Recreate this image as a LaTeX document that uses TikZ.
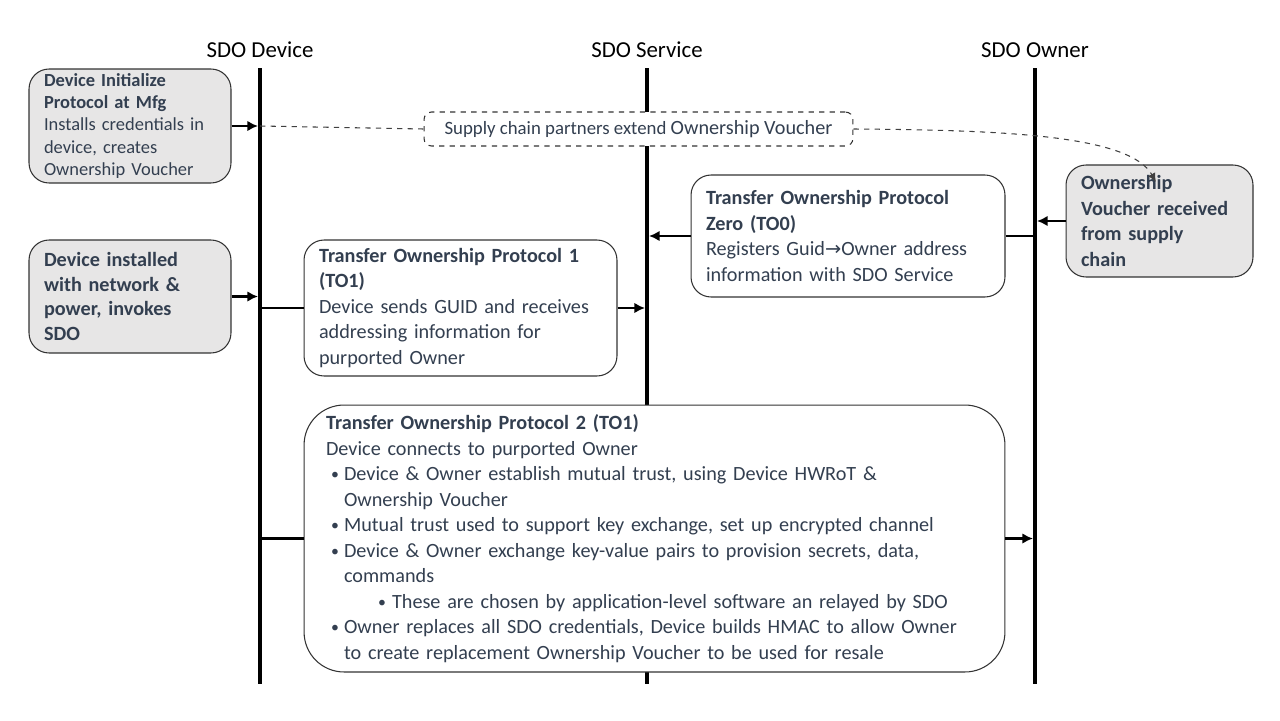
\documentclass[tikz,border=0pt]{standalone}
\usepackage{fontspec}
\setmainfont{Carlito}
\usepackage{tikz}
\usetikzlibrary{arrows.meta}
\definecolor{boxtext}{HTML}{333F50}
\definecolor{boxgray}{HTML}{E7E6E6}
\definecolor{dashgray}{HTML}{404040}
\newcommand{\bdot}{\raisebox{0.5pt}{\fontsize{9}{9}\selectfont\textbullet}}
\newcommand{\bul}{\hspace*{0.1cm}\makebox[0.26cm][l]{\bdot}}
\newcommand{\cont}{\hspace*{0.36cm}}
\newcommand{\subbul}{\hspace*{1.04cm}\makebox[0.28cm][l]{\bdot}}

\begin{document}
\begin{tikzpicture}[x=0.02cm,y=-0.02cm,
  lifeline/.style={line width=2.3pt},
  head/.style={font=\fontsize{13}{15}\selectfont,inner sep=0pt},
  stepbox/.style={draw=black!80,fill=white,rounded corners=0.4cm,line width=0.6pt,align=left,
    text=boxtext,inner sep=0pt,inner xsep=0.3cm,font=\fontsize{11.5}{14.5}\selectfont},
  graybox/.style={stepbox,fill=boxgray},
  conn/.style={line width=1.6pt},
  arr/.style={conn,-{Latex[length=6pt,width=6pt]}},
  chain/.style={dashed,draw=dashgray,line width=0.6pt}]
\useasboundingbox (0,0) rectangle (1280,720);
\fill[white] (0,0) rectangle (1280,720);

\coordinate (devT) at (260,68);
\coordinate (devB) at (260,684);
\coordinate (svcT) at (647,68);
\coordinate (svcB) at (647,684);
\coordinate (ownT) at (1035,68);
\coordinate (ownB) at (1035,684);
\draw[lifeline] (devT) -- (devB);
\draw[lifeline] (svcT) -- (svcB);
\draw[lifeline] (ownT) -- (ownB);
\node[head] (devH) at (260,50) {SDO Device};
\node[head] (svcH) at (647,50) {SDO Service};
\node[head] (ownH) at (1035,50) {SDO Owner};

\node[graybox,minimum width=4.04cm,minimum height=2.28cm,text width=3.44cm,
  font=\fontsize{10.5}{12.8}\selectfont] (init) at (130,126)
  {\textbf{Device Initialize}\\\textbf{Protocol at Mfg}\\Installs credentials in\\device, creates\\Ownership Voucher};
\node[stepbox,dashed,rounded corners=0.15cm,minimum width=8.58cm,minimum height=0.68cm,
  font=\fontsize{10.7}{11}\selectfont,align=center] (chainbox) at (638.5,129)
  {Supply chain partners extend \fontsize{11.5}{11}\selectfont Ownership Voucher};
\node[graybox,minimum width=4.04cm,minimum height=2.26cm,text width=3.44cm,
  font=\fontsize{11.5}{14.2}\selectfont\bfseries] (inst) at (130,296.5)
  {Device installed\\with network \&\\power, invokes\\SDO};
\node[stepbox,minimum width=6.26cm,minimum height=2.72cm,text width=5.66cm] (to1) at (460.5,308)
  {\textbf{Transfer Ownership Protocol 1}\\\textbf{(TO1)}\\Device sends GUID and receives\\addressing information for\\purported Owner};
\node[stepbox,minimum width=6.28cm,minimum height=2.44cm,text width=5.68cm] (to0) at (848,236)
  {\textbf{Transfer Ownership Protocol}\\\textbf{Zero (TO0)}\\Registers Guid{\fontspec{DejaVu Sans}\fontsize{11}{14.5}\selectfont →}Owner address\\information with SDO Service};
\node[graybox,minimum width=3.74cm,minimum height=2.24cm,text width=3.14cm,
  font=\fontsize{11.5}{14.5}\selectfont\bfseries] (vouch) at (1159.5,221)
  {Ownership\\Voucher received\\from supply\\chain};
\node[stepbox,rounded corners=0.8cm,inner xsep=0.44cm,minimum width=14.02cm,minimum height=5.34cm,
  text width=13.14cm] (to2) at (654.5,538.5)
  {\textbf{Transfer Ownership Protocol 2 (TO1)}\\
   Device connects to purported Owner\\
   \bul Device \& Owner establish mutual trust, using Device HWRoT \&\\
   \cont Ownership Voucher\\
   \bul Mutual trust used to support key exchange, set up encrypted channel\\
   \bul Device \& Owner exchange key-value pairs to provision secrets, data,\\
   \cont commands\\
   \subbul These are chosen by application-level software an relayed by SDO\\
   \bul Owner replaces all SDO credentials, Device builds HMAC to allow Owner\\
   \cont to create replacement Ownership Voucher to be used for resale};

\coordinate (vouchIn) at (1156,182);
\draw[chain] (init.east -| devT) -- (chainbox.west);
\draw[chain,-{Latex[length=5pt,width=4.5pt]}] (chainbox.east) .. controls (1010,130) and (1130,136) .. (vouchIn);
\draw[arr,shorten >=1.15pt] (init.east) -- (init.east -| devT);
\draw[arr,shorten >=1.15pt] (inst.east) -- (inst.east -| devT);
\draw[conn] (to1.west -| devT) -- (to1.west);
\draw[arr,shorten >=1.15pt] (to1.east) -- (to1.east -| svcT);
\draw[arr,shorten >=1.15pt] (to0.west) -- (to0.west -| svcT);
\draw[conn] (to0.east -| ownT) -- (to0.east);
\draw[arr,shorten >=1.15pt] (vouch.west) -- (vouch.west -| ownT);
\draw[conn] (to2.west -| devT) -- (to2.west);
\draw[arr,shorten >=1.15pt] (to2.east) -- (to2.east -| ownT);
\end{tikzpicture}
\end{document}
